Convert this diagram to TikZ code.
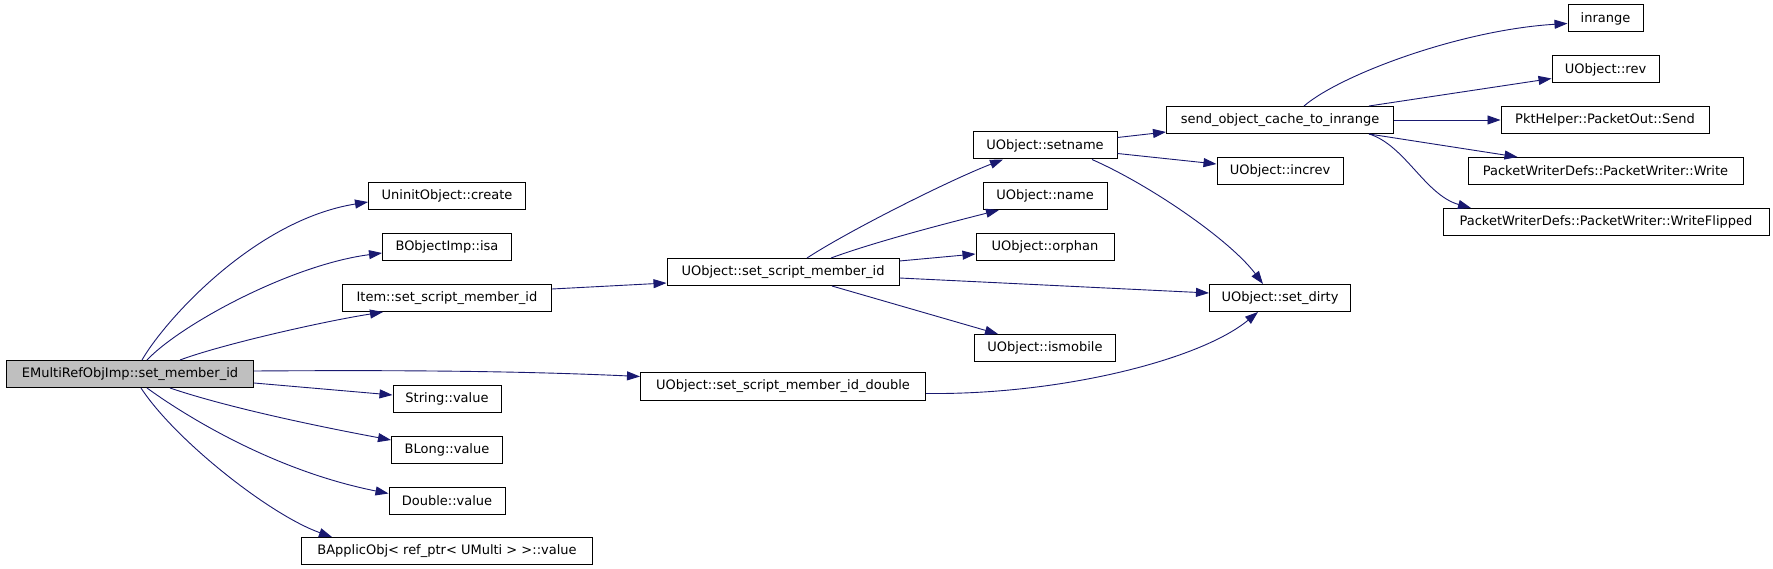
\documentclass[tikz,border=0pt]{standalone}
\usepackage{fontspec}
\setmainfont{DejaVu Sans}
\usepackage{xcolor}
\usepackage{tikz}
\usetikzlibrary{arrows.meta}
\definecolor{edgeblue}{RGB}{25,25,112}
\tikzset{
  fnbox/.style={draw=black,line width=1pt,inner sep=0pt,minimum height=27pt,font=\fontsize{13}{15}\selectfont},
  callarr/.style={draw=edgeblue,line width=0.9pt,-{Triangle[length=13pt,width=9pt]},color=edgeblue},
}

\begin{document}
\begin{tikzpicture}[x=1pt,y=-1pt]
	\path[fill=white] (0,0) rectangle (1773,569);
	% caller and first column
	\node[fnbox,minimum width=247pt,fill=black!25] (main) at (130,374) {EMultiRefObjImp::set\_member\_id};
	\node[fnbox,minimum width=157pt] (create) at (447,196) {UninitObject::create};
	\node[fnbox,minimum width=129pt] (isa) at (447,247) {BObjectImp::isa};
	\node[fnbox,minimum width=209pt] (itemsmi) at (447,298) {Item::set\_script\_member\_id};
	\node[fnbox,minimum width=108pt] (strval) at (447,399) {String::value};
	\node[fnbox,minimum width=111pt] (blong) at (447,450) {BLong::value};
	\node[fnbox,minimum width=116pt] (dbl) at (447,500.5) {Double::value};
	\node[fnbox,minimum width=291pt] (bapplic) at (447,551) {BApplicObj< ref\_ptr< UMulti > >::value};
	% second column
	\node[fnbox,minimum width=232pt] (osmi) at (783,272) {UObject::set\_script\_member\_id};
	\node[fnbox,minimum width=285pt] (osmid) at (783,386.5) {UObject::set\_script\_member\_id\_double};
	% third column
	\node[fnbox,minimum width=144pt] (setname) at (1045,145.5) {UObject::setname};
	\node[fnbox,minimum width=124pt] (uoname) at (1045,196) {UObject::name};
	\node[fnbox,minimum width=138pt] (orphan) at (1045,247) {UObject::orphan};
	\node[fnbox,minimum width=141pt] (ismobile) at (1045,348) {UObject::ismobile};
	\node[fnbox,minimum width=227pt] (send) at (1280,120) {send\_object\_cache\_to\_inrange};
	\node[fnbox,minimum width=126pt] (increv) at (1280,171) {UObject::increv};
	\node[fnbox,minimum width=141pt] (setdirty) at (1280,298) {UObject::set\_dirty};
	% last column
	\node[fnbox,minimum width=75pt] (inrange) at (1605.5,18.5) {inrange};
	\node[fnbox,minimum width=107pt] (rev) at (1605.5,69.5) {UObject::rev};
	\node[fnbox,minimum width=208pt] (pkt) at (1605,120) {PktHelper::PacketOut::Send};
	\node[fnbox,minimum width=275pt] (pwrite) at (1605.5,171) {PacketWriterDefs::PacketWriter::Write};
	\node[fnbox,minimum width=326pt] (pwflip) at (1606,222) {PacketWriterDefs::PacketWriter::WriteFlipped};

	% calls from the caller
	\draw[callarr] ([xshift=12pt]main.north) .. controls (165,320) and (255,220) .. ([yshift=-6pt]create.west);
	\draw[callarr] ([xshift=17pt]main.north) .. controls (180,325) and (290,265) .. ([yshift=-6pt]isa.west);
	\draw[callarr] ([xshift=50pt]main.north) .. controls (220,345) and (320,322) .. ([xshift=-64pt]itemsmi.south);
	\draw[callarr] ([yshift=3pt]main.east) .. controls (400,370) and (520,371) .. ([yshift=10pt]osmid.west);
	\draw[callarr] ([yshift=-9pt]main.east) -- ([yshift=4pt]strval.west);
	\draw[callarr] ([xshift=40pt]main.south) .. controls (220,405) and (300,423) .. ([yshift=10pt]blong.west);
	\draw[callarr] ([xshift=17pt]main.south) .. controls (180,412) and (270,470) .. ([yshift=7pt]dbl.west);
	\draw[callarr] ([xshift=11pt]main.south) .. controls (175,440) and (270,515) .. ([xshift=-115pt]bapplic.north);
	\draw[callarr] ([yshift=9pt]itemsmi.east) -- ([yshift=-11pt]osmi.west);
	% UObject::set_script_member_id
	\draw[callarr] ([xshift=24pt]osmi.north) .. controls (850,230) and (950,180) .. ([xshift=-42pt]setname.south);
	\draw[callarr] ([xshift=48pt]osmi.north) .. controls (880,240) and (960,220) .. ([xshift=-46pt]uoname.south);
	\draw[callarr] ([yshift=11pt]osmi.east) -- ([yshift=-7pt]orphan.west);
	\draw[callarr] ([yshift=-6pt]osmi.east) -- ([yshift=5pt]setdirty.west);
	\draw[callarr] ([xshift=49pt]osmi.south) -- ([xshift=-47pt]ismobile.north);
	\draw[callarr] ([yshift=-7pt]osmid.east) .. controls (1060,395) and (1200,360) .. ([xshift=-22pt]setdirty.south);
	% UObject::setname
	\draw[callarr] ([yshift=8pt]setname.east) -- ([yshift=-12pt]send.west);
	\draw[callarr] ([yshift=-8pt]setname.east) -- ([yshift=7pt]increv.west);
	\draw[callarr] ([xshift=47pt]setname.south) .. controls (1150,185) and (1230,240) .. ([xshift=-17pt]setdirty.north);
	% send_object_cache_to_inrange
	\draw[callarr] ([xshift=24pt]send.north) .. controls (1340,75) and (1460,30) .. ([yshift=-5pt]inrange.west);
	\draw[callarr] ([xshift=89pt]send.north) -- ([yshift=-9pt]rev.west);
	\draw[callarr] (send.east) -- (pkt.west);
	\draw[callarr] ([xshift=89pt]send.south) -- ([xshift=-88pt]pwrite.north);
	\draw[callarr] ([xshift=89pt]send.south) .. controls (1405,145) and (1425,195) .. ([xshift=-135pt]pwflip.north);
\end{tikzpicture}
\end{document}
